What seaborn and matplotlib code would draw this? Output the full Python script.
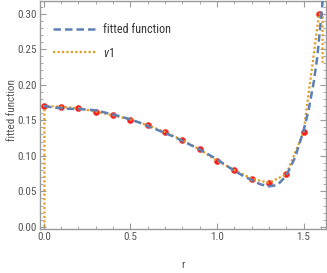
import numpy as np
import pandas as pd
import matplotlib
matplotlib.use("Agg")
import matplotlib.pyplot as plt
import seaborn as sns
from matplotlib.ticker import MultipleLocator
from matplotlib import font_manager

# dados
r_pts = [0.0, 0.1, 0.2, 0.3, 0.4, 0.5, 0.6, 0.7, 0.8, 0.9, 1.0, 1.1, 1.2, 1.3, 1.4, 1.5, 1.59]
v_pts = [0.170, 0.169, 0.167, 0.162, 0.157, 0.151, 0.143, 0.1335, 0.122, 0.109, 0.093,
         0.080, 0.068, 0.062, 0.074, 0.133, 0.300]

# v1: interpolacao dos pontos com as bordas verticais
r_v1 = [0.003, 0.003] + r_pts + [1.61, 1.61]
y_v1 = [0.0, 0.170] + v_pts + [0.296, 0.231]

# funcao ajustada (valores lidos)
r_fit = [0.0, 0.05, 0.1, 0.15, 0.2, 0.25, 0.3, 0.35, 0.4, 0.45, 0.5, 0.55, 0.6, 0.65, 0.7,
         0.75, 0.8, 0.85, 0.9, 0.95, 1.0, 1.05, 1.1, 1.15, 1.2, 1.25, 1.3, 1.35, 1.4, 1.45,
         1.5, 1.53, 1.56, 1.58, 1.6, 1.615]
y_fit = [0.170, 0.168, 0.167, 0.166, 0.166, 0.165, 0.164, 0.161, 0.158, 0.155, 0.151, 0.147,
         0.142, 0.137, 0.132, 0.127, 0.121, 0.115, 0.109, 0.102, 0.095, 0.087, 0.079, 0.072,
         0.066, 0.060, 0.057, 0.059, 0.072, 0.097, 0.135, 0.165, 0.205, 0.240, 0.290, 0.330]

azul = "#5E81B5"
laranja = "#E19C24"
cinza = "#9a9a9a"

sns.set_style("ticks")
# fonte estreita, se houver
nomes = {f.name for f in font_manager.fontManager.ttflist}
candidatas = ['Liberation Sans Narrow', 'Arial Narrow', 'Roboto Condensed', 'PT Sans Narrow',
              'Archivo Narrow', 'Open Sans Condensed', 'Liberation Sans']
fonte = next((c for c in candidatas if c in nomes), 'DejaVu Sans')
plt.rcParams['font.family'] = [fonte, 'DejaVu Sans']
plt.rcParams['mathtext.fontset'] = 'custom'
plt.rcParams['mathtext.it'] = fonte + ':italic'
plt.rcParams['mathtext.rm'] = fonte

fig = plt.figure(figsize=(3.27, 2.73), dpi=100)
ax = fig.add_axes([0.122, 0.161, 0.875, 0.836])

df_fit = pd.DataFrame({'r': r_fit, 'y': y_fit})
df_v1 = pd.DataFrame({'r': r_v1, 'y': y_v1})
df_pts = pd.DataFrame({'r': r_pts, 'y': v_pts})

sns.scatterplot(data=df_pts, x='r', y='y', ax=ax, color="#ff1a1a", s=20,
                edgecolor="#e04040", linewidth=0.3, zorder=2)
ax.plot(df_v1['r'], df_v1['y'], color=laranja, lw=1.6, linestyle=(0, (1.0, 1.0)),
        label="v1", zorder=3)
ax.plot(df_fit['r'], df_fit['y'], color=azul, lw=1.8, linestyle=(0, (3.0, 1.6)),
        label="fitted function", zorder=3)

ax.set_xlim(-0.023, 1.63)
ax.set_ylim(-0.003, 0.318)
ax.xaxis.set_major_locator(MultipleLocator(0.5))
ax.xaxis.set_minor_locator(MultipleLocator(0.1))
ax.yaxis.set_major_locator(MultipleLocator(0.05))
ax.yaxis.set_minor_locator(MultipleLocator(0.01))
ax.xaxis.set_major_formatter(plt.FuncFormatter(lambda v, p: f"{v:.1f}"))
ax.yaxis.set_major_formatter(plt.FuncFormatter(lambda v, p: f"{v:.2f}"))

tam = 8 if fonte != 'DejaVu Sans' else 6.5
for s in ax.spines.values():
    s.set_color(cinza)
    s.set_linewidth(1.0)
ax.tick_params(which='both', direction='in', top=True, right=True, color=cinza,
               labelcolor="#555555", labelsize=tam, pad=2)
ax.tick_params(which='major', length=4, width=0.8)
ax.tick_params(which='minor', length=2, width=0.6)

ax.set_xlabel("r", color="#555555", fontsize=tam)
ax.set_ylabel("fitted function", color="#555555", fontsize=tam)
ax.xaxis.set_label_coords(0.5, -0.158, transform=ax.transAxes)
ax.yaxis.set_label_coords(-0.097, 0.52, transform=ax.transAxes)
ax.yaxis.label.set_va('center')
ax.xaxis.label.set_va('center')

h, l = ax.get_legend_handles_labels()
leg = ax.legend([h[1], h[0]], ["fitted function", "$v1$"], loc="upper left", frameon=False,
                bbox_to_anchor=(0.0, 0.96), fontsize=tam + 0.7, handlelength=3.6,
                handletextpad=0.5, labelspacing=0.85, borderaxespad=0.7,
                labelcolor="#333333")

fig.savefig("out.png", dpi=100)
